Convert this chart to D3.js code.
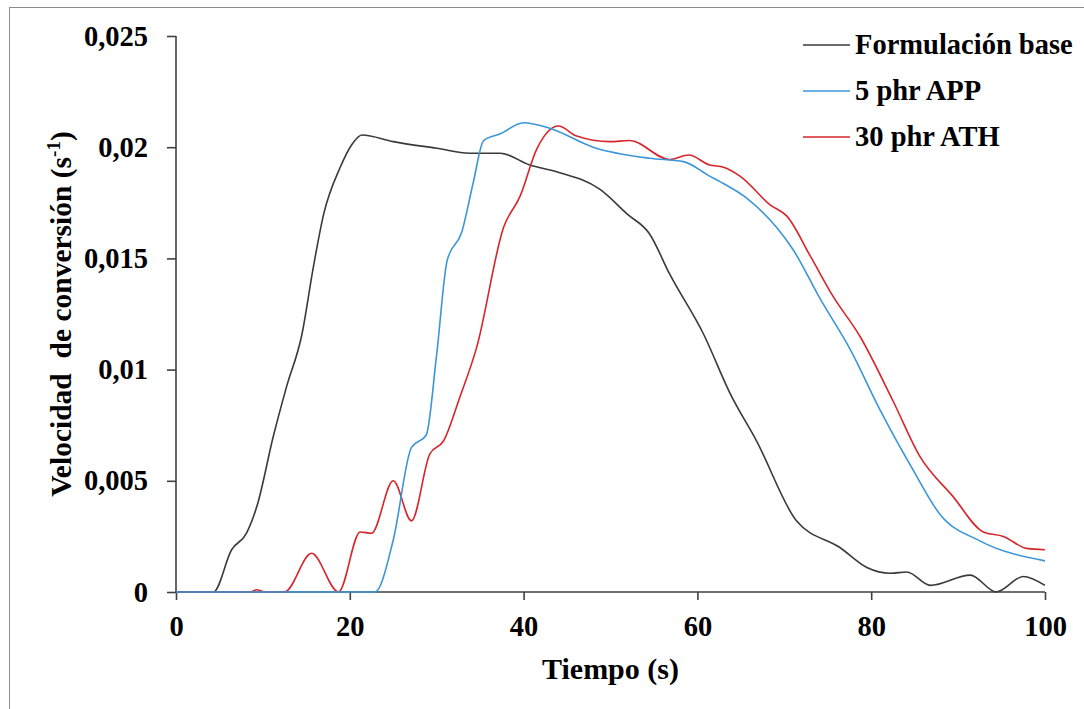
<!DOCTYPE html>
<html>
<head>
<meta charset="utf-8">
<script src="https://cdn.jsdelivr.net/npm/d3@7"></script>
<style>
  html, body { margin: 0; padding: 0; background: #fff; }
  svg { display: block; }
  text { font-family: "Liberation Serif", "Times New Roman", serif; font-weight: bold; fill: #000; }
</style>
</head>
<body>
<svg id="chart" width="1084" height="709"></svg>
<script>
// ---- Data ----
const seriesNames = ["Formulación base", "5 phr APP", "30 phr ATH"];
const seriesColors = ["#3a3a3a", "#3b96d8", "#d7262b"];

const timeBase = [0, 4.3, 6.4, 8.1, 9.3, 11.2, 12.7, 14.5, 15.8, 17.0, 18.9, 20.2, 21.4, 25.0, 30.0, 33.8, 37.3, 40.7, 43.8, 48.8, 51.9, 54.5, 56.8, 60.7, 63.8, 66.8, 71.4, 76.4, 79.5, 82.2, 84.1, 86.8, 91.4, 94.4, 97.5, 100];
const valuesBase = [0, 0, 0.0019, 0.00264, 0.00384, 0.0070, 0.0092, 0.0116, 0.0146, 0.0170, 0.0191, 0.0201, 0.02055, 0.02025, 0.01995, 0.01973, 0.01973, 0.0192, 0.0189, 0.0181, 0.0170, 0.0161, 0.0143, 0.0116, 0.0089, 0.0068, 0.0032, 0.0020, 0.0011, 0.00084, 0.0009, 0.0003, 0.00076, 0, 0.0007, 0.0003];

const timeAPP = [0, 22.9, 25.0, 27.1, 28.8, 30.0, 31.2, 32.9, 34.2, 35.4, 37.3, 40.0, 43.0, 48.0, 54.5, 58.4, 61.4, 62.6, 65.7, 69.1, 71.0, 74.1, 77.6, 81.0, 84.8, 87.9, 92.5, 100];
const valuesAPP = [0, 0, 0.00234, 0.0065, 0.00706, 0.0107, 0.0149, 0.0162, 0.0184, 0.0203, 0.0206, 0.0211, 0.02085, 0.0200, 0.0195, 0.01935, 0.0187, 0.01845, 0.0177, 0.0164, 0.0154, 0.0132, 0.0109, 0.0082, 0.0055, 0.0035, 0.0023, 0.0014];

const timeATH = [0, 8.5, 9.3, 10.3, 12.5, 15.6, 18.7, 21.2, 22.5, 25.0, 27.1, 29.2, 30.8, 32.7, 34.6, 37.7, 39.6, 41.5, 44.0, 46.1, 49.9, 52.2, 56.8, 59.0, 61.4, 63.0, 64.9, 68.4, 70.3, 73.0, 75.6, 78.7, 82.5, 85.6, 89.4, 92.9, 95.2, 97.9, 100];
const valuesATH = [0, 0, 0.0001, 0, 0, 0.00174, 0, 0.0027, 0.00264, 0.0050, 0.0032, 0.0062, 0.0068, 0.0088, 0.0110, 0.0164, 0.0178, 0.0199, 0.02095, 0.0205, 0.02025, 0.0203, 0.01945, 0.01965, 0.0192, 0.0191, 0.0187, 0.0174, 0.0169, 0.0151, 0.0133, 0.0115, 0.0086, 0.0061, 0.0043, 0.0027, 0.0025, 0.00196, 0.0019];

const xTicks = [0, 20, 40, 60, 80, 100];
const yTicks = [0, 0.005, 0.01, 0.015, 0.02, 0.025];
const yTickLabels = ["0", "0,005", "0,01", "0,015", "0,02", "0,025"];

// ---- Layout ----
const svg = d3.select("#chart");
const W = 1084, H = 709;
const plot = { left: 176, right: 1045, top: 36, bottom: 592 };

// outer chart border (only left/top edge visible in reference)
svg.append("rect")
  .attr("x", 9.5).attr("y", 7.5)
  .attr("width", W + 20).attr("height", H + 20)
  .attr("fill", "none").attr("stroke", "#8c8c8c").attr("stroke-width", 1);

const x = d3.scaleLinear().domain([0, 100]).range([plot.left, plot.right]);
const y = d3.scaleLinear().domain([0, 0.025]).range([plot.bottom, plot.top]);

// axes
const xAxis = d3.axisBottom(x).tickValues(xTicks).tickSize(8).tickPadding(16).tickFormat(d3.format("d"));
const yAxis = d3.axisLeft(y).tickValues(yTicks).tickSize(9).tickPadding(19)
  .tickFormat((d, i) => yTickLabels[i]);

const gx = svg.append("g").attr("transform", `translate(0,${plot.bottom})`).call(xAxis);
const gy = svg.append("g").attr("transform", `translate(${plot.left},0)`).call(yAxis);
[gx, gy].forEach(g => {
  g.select(".domain").attr("stroke", "#404040").attr("stroke-width", 1.6);
  g.selectAll(".tick line").attr("stroke", "#404040").attr("stroke-width", 1.6);
  g.selectAll(".tick text").attr("font-family", "Liberation Serif, Times New Roman, serif")
    .attr("font-weight", "bold").attr("font-size", 28.5).attr("fill", "#000");
});
gx.select(".domain").attr("d", `M${plot.left},0H${plot.right}`);
gy.select(".domain").attr("d", `M0,${plot.bottom}V${plot.top}`);

// series
const line = d3.line().x(d => x(d[0])).y(d => y(d[1])).curve(d3.curveMonotoneX);
const series = [
  { t: timeBase, v: valuesBase, c: seriesColors[0] },
  { t: timeATH, v: valuesATH, c: seriesColors[2] },
  { t: timeAPP, v: valuesAPP, c: seriesColors[1] }
];
series.forEach(s => {
  const pts = s.t.map((t, j) => [t, s.v[j]]);
  svg.append("path").datum(pts)
    .attr("d", line)
    .attr("fill", "none")
    .attr("stroke", s.c)
    .attr("stroke-width", 1.6)
    .attr("stroke-linejoin", "round");
});

// axis titles
svg.append("text")
  .attr("x", (plot.left + plot.right) / 2).attr("y", 679)
  .attr("text-anchor", "middle").attr("font-size", 30)
  .text("Tiempo (s)");

const yt = svg.append("text")
  .attr("transform", `translate(71,${(plot.top + plot.bottom) / 2}) rotate(-90)`)
  .attr("text-anchor", "middle").attr("font-size", 29.5)
  .style("white-space", "pre");
yt.append("tspan").text("Velocidad  de conversión (s");
yt.append("tspan").attr("font-size", 19).attr("dy", -11).text("-1");
yt.append("tspan").attr("dy", 11).text(")");

// legend
const legendY = [45, 91, 137];
seriesNames.forEach((name, i) => {
  svg.append("line")
    .attr("x1", 803).attr("x2", 850)
    .attr("y1", legendY[i]).attr("y2", legendY[i])
    .attr("stroke", seriesColors[i]).attr("stroke-width", 1.6);
  svg.append("text")
    .attr("x", 855).attr("y", legendY[i] + 9)
    .attr("font-size", 28.5)
    .text(name);
});
</script>
</body>
</html>
